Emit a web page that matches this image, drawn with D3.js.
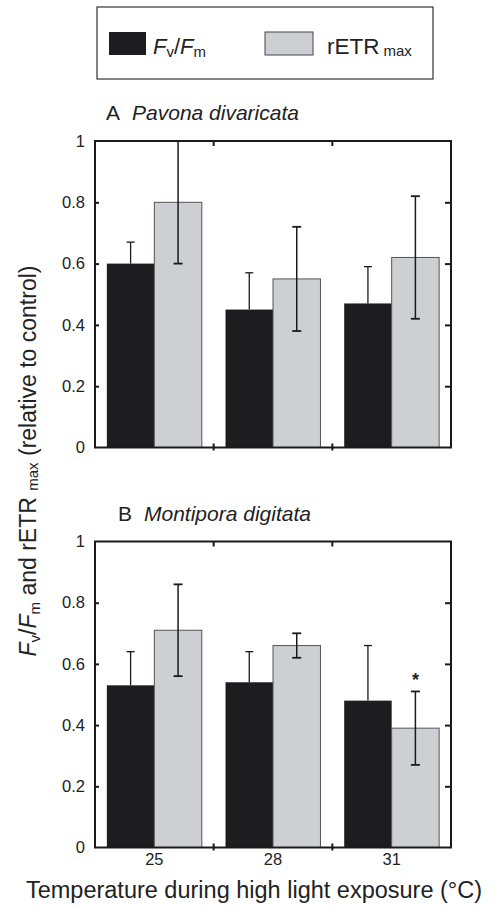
<!DOCTYPE html>
<html>
<head>
<meta charset="utf-8">
<script src="https://cdn.jsdelivr.net/npm/d3@7"></script>
<style>
  body { margin: 0; background: #fff; }
  svg { font-family: "Liberation Sans", Arial, sans-serif; }
</style>
</head>
<body>
<svg id="chart" width="495" height="906"></svg>
<script>
// temperatures (x categories)
const temps = ["25", "28", "31"];
const yTicks = [0, 0.2, 0.4, 0.6, 0.8, 1];

// panel A  Pavona divaricata
const pavonaFvFm = [0.60, 0.45, 0.47];
const pavonaFvFmErr = [0.07, 0.12, 0.12];
const pavonaETR = [0.80, 0.55, 0.62];
const pavonaETRErr = [0.20, 0.17, 0.20];

// panel B  Montipora digitata
const montiFvFm = [0.53, 0.54, 0.48];
const montiFvFmErr = [0.11, 0.10, 0.18];
const montiETR = [0.71, 0.66, 0.39];
const montiETRErr = [0.15, 0.04, 0.12];
const montiStars = ["", "", "*"];

const svg = d3.select("#chart");
const black = "#1d1d20", grey = "#cdcfd2", ink = "#222";

const x = d3.scaleBand().domain(temps).range([95, 451]).paddingInner(0.2).paddingOuter(0.1);
const sub = d3.scaleBand().domain(["fv", "etr"]).range([0, x.bandwidth()]);

function panel(top, bottom, letter, name, titleX, fv, fvErr, etr, etrErr, stars, showX) {
  let y = d3.scaleLinear().domain([0, 1]).range([bottom, top]);
  let g = svg.append("g");

  // title
  let t = g.append("text").attr("x", titleX).attr("y", top - 21).attr("font-size", 21).attr("fill", ink);
  t.append("tspan").text(letter);
  t.append("tspan").attr("dx", 12).attr("font-style", "italic").text(name);

  let rows = temps.map((d, i) => ({t: d, fv: fv[i], fvErr: fvErr[i], etr: etr[i], etrErr: etrErr[i], star: stars ? stars[i] : ""}));

  // bars
  let grp = g.selectAll(".grp").data(rows).enter().append("g")
    .attr("transform", d => `translate(${x(d.t)},0)`);
  grp.append("rect")
    .attr("x", sub("fv")).attr("width", sub.bandwidth())
    .attr("y", d => y(d.fv)).attr("height", d => y(0) - y(d.fv))
    .attr("fill", black);
  grp.append("rect")
    .attr("x", sub("etr")).attr("width", sub.bandwidth())
    .attr("y", d => y(d.etr)).attr("height", d => y(0) - y(d.etr))
    .attr("fill", grey).attr("stroke", "#555").attr("stroke-width", 1);

  // error bars: Fv/Fm upper only, rETR both ways
  let cf = sub("fv") + sub.bandwidth() / 2, ce = sub("etr") + sub.bandwidth() / 2;
  grp.append("line").attr("x1", cf).attr("x2", cf)
    .attr("y1", d => y(d.fv)).attr("y2", d => y(d.fv + d.fvErr))
    .attr("stroke", "#1a1a1a").attr("stroke-width", 1.3);
  grp.append("line").attr("x1", cf - 4).attr("x2", cf + 4)
    .attr("y1", d => y(d.fv + d.fvErr)).attr("y2", d => y(d.fv + d.fvErr))
    .attr("stroke", "#1a1a1a").attr("stroke-width", 1.3);
  grp.append("line").attr("x1", ce).attr("x2", ce)
    .attr("y1", d => y(d.etr - d.etrErr)).attr("y2", d => y(Math.min(1, d.etr + d.etrErr)))
    .attr("stroke", "#1a1a1a").attr("stroke-width", 1.5);
  [-1, 1].forEach(s => {
    grp.filter(d => d.etr + s * d.etrErr < 1).append("line")
      .attr("x1", ce - 4.5).attr("x2", ce + 4.5)
      .attr("y1", d => y(d.etr + s * d.etrErr)).attr("y2", d => y(d.etr + s * d.etrErr))
      .attr("stroke", "#1a1a1a").attr("stroke-width", 1.8);
  });
  grp.append("text").attr("x", ce).attr("y", d => y(d.etr + d.etrErr) - 5)
    .attr("text-anchor", "middle").attr("font-size", 18).attr("font-weight", "bold").attr("fill", ink)
    .text(d => d.star);

  // frame
  g.append("rect").attr("x", 95).attr("y", top).attr("width", 356).attr("height", bottom - top)
    .attr("fill", "none").attr("stroke", "#1a1a1a").attr("stroke-width", 2);

  // left axis labels
  let left = g.append("g").attr("transform", "translate(95,0)")
    .call(d3.axisLeft(y).tickValues(yTicks).tickFormat(d3.format("~g")).tickSize(0).tickPadding(10));
  left.select(".domain").remove();
  left.selectAll("text").attr("font-size", 16.5).attr("fill", ink).attr("font-family", "Liberation Sans, Arial, sans-serif");

  // inward ticks on both sides
  let lt = g.append("g").attr("transform", "translate(95,0)")
    .call(d3.axisRight(y).tickValues(yTicks.slice(1, -1)).tickSize(4).tickFormat(""));
  lt.select(".domain").remove();
  lt.selectAll("line").attr("stroke", "#1a1a1a").attr("stroke-width", 2);
  let rt = g.append("g").attr("transform", "translate(451,0)")
    .call(d3.axisLeft(y).tickValues(yTicks.slice(1, -1)).tickSize(6).tickFormat(""));
  rt.select(".domain").remove();
  rt.selectAll("line").attr("stroke", "#1a1a1a").attr("stroke-width", 2);

  // group boundary ticks top and bottom
  let bounds = temps.slice(1).map(d => x(d) - x.step() * x.paddingInner() / 2);
  g.selectAll(".tt").data(bounds).enter().append("line")
    .attr("x1", d => d).attr("x2", d => d).attr("y1", top).attr("y2", top + 5)
    .attr("stroke", "#1a1a1a").attr("stroke-width", 2);
  g.selectAll(".bt").data(bounds).enter().append("line")
    .attr("x1", d => d).attr("x2", d => d).attr("y1", bottom - 4).attr("y2", bottom + 3)
    .attr("stroke", "#1a1a1a").attr("stroke-width", 2);

  if (showX) {
    let bx = g.append("g").attr("transform", `translate(0,${bottom})`)
      .call(d3.axisBottom(x).tickSize(0).tickPadding(6));
    bx.select(".domain").remove();
    bx.selectAll("text").attr("font-size", 16.5).attr("fill", ink).attr("font-family", "Liberation Sans, Arial, sans-serif");
  }
}

panel(141, 447.5, "A", "Pavona divaricata", 106, pavonaFvFm, pavonaFvFmErr, pavonaETR, pavonaETRErr, null, false);
panel(541.5, 847.5, "B", "Montipora digitata", 118, montiFvFm, montiFvFmErr, montiETR, montiETRErr, montiStars, true);

// x axis title
svg.append("text").attr("x", 254).attr("y", 898).attr("text-anchor", "middle")
  .attr("font-size", 23.5).attr("fill", ink).text("Temperature during high light exposure (°C)");

// y axis title
let yt = svg.append("text").attr("transform", "translate(36,461) rotate(-90)")
  .attr("text-anchor", "middle").attr("font-size", 23).attr("fill", ink);
yt.append("tspan").attr("font-style", "italic").text("F");
yt.append("tspan").attr("font-size", 15).attr("dy", 4).text("v");
yt.append("tspan").attr("dy", -4).text("/");
yt.append("tspan").attr("font-style", "italic").text("F");
yt.append("tspan").attr("font-size", 15).attr("dy", 4).text("m");
yt.append("tspan").attr("dy", -4).text(" and rETR ");
yt.append("tspan").attr("font-size", 15).attr("dy", 2).text("max");
yt.append("tspan").attr("dy", -2).text(" (relative to control)");

// legend
const legendItems = [{key: "fv", fill: black, x: 109, w: 37}, {key: "etr", fill: grey, x: 265, w: 48}];
let lg = svg.append("g");
lg.append("rect").attr("x", 97).attr("y", 7).attr("width", 336).attr("height", 72)
  .attr("fill", "none").attr("stroke", "#333").attr("stroke-width", 1.2);
lg.selectAll(".sw").data(legendItems).enter().append("rect")
  .attr("x", d => d.x).attr("y", 32).attr("width", d => d.w).attr("height", 23)
  .attr("fill", d => d.fill).attr("stroke", d => d.key == "etr" ? "#444" : "none");
let l1 = lg.append("text").attr("x", 153).attr("y", 54).attr("font-size", 22).attr("fill", ink);
l1.append("tspan").attr("font-style", "italic").text("F");
l1.append("tspan").attr("font-size", 15).attr("dy", 3).text("v");
l1.append("tspan").attr("dy", -3).text("/");
l1.append("tspan").attr("font-style", "italic").text("F");
l1.append("tspan").attr("font-size", 15).attr("dy", 3).text("m");
let l2 = lg.append("text").attr("x", 327).attr("y", 54).attr("font-size", 22.5).attr("fill", ink);
l2.append("tspan").text("rETR");
l2.append("tspan").attr("font-size", 15).attr("dx", 4).attr("dy", 2).text("max");
</script>
</body>
</html>
